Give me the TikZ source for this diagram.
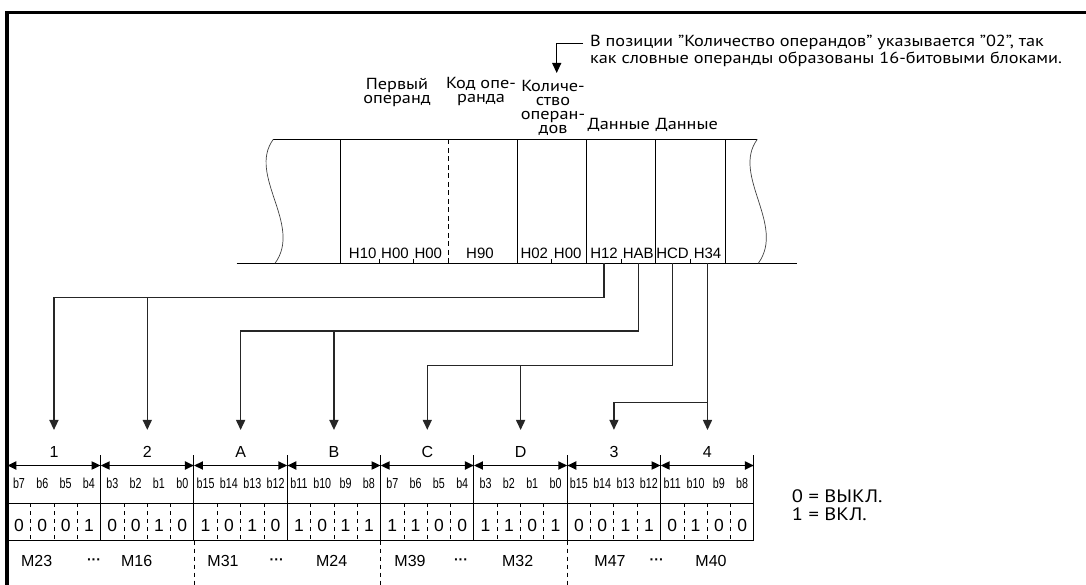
\documentclass[tikz,border=0pt]{standalone}
\usepackage{fontspec}
\setmainfont[FakeStretch=1.14]{PT Sans}
\newfontfamily\hexfont{Liberation Sans}
\newfontfamily\bitfont[FakeStretch=0.74]{Liberation Sans}
\usetikzlibrary{arrows.meta, positioning, calc}

\begin{document}
\begin{tikzpicture}[
    x=1pt, y=-1pt,
    frameline/.style={line width=3.5pt},
    memline/.style={line width=1pt},
    wave/.style={line width=0.7pt, black!75},
    pointer/.style={line width=1.2pt, -{Triangle[length=10pt, width=9pt]}},
    conn/.style={line width=1.5pt, black!85, -{Triangle[length=10pt, width=9pt]}},
    span/.style={line width=1.8pt, {Triangle[length=9pt, width=8pt]}-{Triangle[length=9pt, width=8pt]}},
    grid/.style={line width=1pt},
    sep/.style={line width=0.9pt, dash pattern=on 4pt off 4pt},
    field/.style={font=\fontsize{16}{14}\selectfont, align=center, inner sep=0pt},
    note/.style={font=\fontsize{16}{16.5}\selectfont, align=left, inner sep=0pt, anchor=west},
    hexval/.style={font=\hexfont\fontsize{15}{15}\selectfont, inner sep=0pt},
    bitname/.style={font=\bitfont\fontsize{14.5}{14.5}\selectfont, inner sep=0pt},
    bitval/.style={font=\hexfont\fontsize{17.5}{17.5}\selectfont, inner sep=0pt},
    grouplbl/.style={font=\hexfont\fontsize{16}{16}\selectfont, inner sep=0pt},
    devname/.style={font=\hexfont\fontsize{16}{16}\selectfont, inner sep=0pt},
    gap/.style={font=\hexfont\bfseries\fontsize{14}{14}\selectfont, inner sep=0pt},
]
\useasboundingbox (0,0) rectangle (1086,585);

% frame
\draw[frameline] (7,585) -- (7,12.7) -- (1086,12.7);

% memory block
\coordinate (memtop) at (0,139.3);
\coordinate (membot) at (0,263.3);
\draw[memline] (273.3,139.3) -- (757.3,139.3);
\draw[memline] (236.7,263.3) -- (796.7,263.3);
\foreach \x in {340.7,517.3,586.7,655.7,725.3}
    \draw[memline] (\x,139.3) -- (\x,263.3);
\draw[memline, dash pattern=on 5pt off 3.5pt] (448.3,139.3) -- (448.3,263.3);
\foreach \x in {379.3,413.3,551.7,621.7,690}
    \draw[memline] (\x,259) -- (\x,263.3);
\draw[wave] (273.3,139.3) .. controls (247,175) and (303,225) .. (275,263.3);
\draw[wave] (757.3,139.3) .. controls (731,175) and (786,225) .. (758.3,263.3);

% byte values
\node[hexval] (h10)  at (362.7,253.3) {H10};
\node[hexval] (h00a) at (395,253.3)   {H00};
\node[hexval] (h00b) at (428.3,253.3) {H00};
\node[hexval] (h90)  at (480,253.3)   {H90};
\node[hexval] (h02)  at (534.3,253.3) {H02};
\node[hexval] (h00c) at (567.7,253.3) {H00};
\node[hexval] (h12)  at (604,253.3)   {H12};
\node[hexval] (hab)  at (638.3,253.3) {HAB};
\node[hexval] (hcd)  at (672.5,253.3) {HCD};
\node[hexval] (h34)  at (707.5,253.3) {H34};

% field names
\node[field] (first) at (397,92)  {Первый\\операнд};
\node[field] (code)  at (481,92)  {Код опе-\\ранда};
\node[field] (cnt)   at (553,107.5) {Количе-\\ство\\операн-\\дов};
\node[field] (data1) at (618.8,124.5) {Данные};
\node[field] (data2) at (686.7,124.5) {Данные};

% note
\node[note] (note) at (590,51) {В позиции "Количество операндов" указывается "02", так\\как словные операнды образованы 16-битовыми блоками.};
\coordinate (noteend) at (583,43.5);
\coordinate (cnttip) at (556.7,73);
\draw[pointer] (noteend) -| (cnttip);

% bit table
\foreach \i in {0,...,8}
    \coordinate (v\i) at (7.3+93.33*\i,465.5);
\foreach \i in {0,...,8}
    \draw[grid] (v\i |- 0,455) -- (v\i |- 0,540.7);
\draw[grid] (v0 |- 0,503.3) -- (v8 |- 0,503.3);
\draw[grid] (v0 |- 0,540.7) -- (v8 |- 0,540.7);
\foreach \i [count=\j from 0] in {1,...,8}
    \draw[span] (v\j) -- (v\i);

\foreach \t [count=\i] in {1,2,A,B,C,D,3,4} {
    \node[grouplbl] (g\i) at (7.3+93.33*\i-46.67,451.7) {\t};
    \coordinate (tip\i) at ([yshift=16pt]g\i.north);
}

\foreach \b [count=\k from 0] in {b7,b6,b5,b4,b3,b2,b1,b0,b15,b14,b13,b12,b11,b10,b9,b8,b7,b6,b5,b4,b3,b2,b1,b0,b15,b14,b13,b12,b11,b10,b9,b8}
    \node[bitname] at (7.3+23.33*\k+11.67,483.3) {\b};
\foreach \d [count=\k from 0] in {0,0,0,1,0,0,1,0,1,0,1,0,1,0,1,1,1,1,0,0,1,1,0,1,0,0,1,1,0,1,0,0}
    \node[bitval] at (7.3+23.33*\k+11.67,525.5) {\d};
\foreach \g in {0,...,7}
    \foreach \j in {1,2,3}
        \draw[sep] (7.3+93.33*\g+23.33*\j,503.3) -- ++(0,37.4);

% devices
\foreach \m/\x in {M23/36.7,M16/136.7,M31/223,M24/331.7,M39/410,M32/517.7,M47/610,M40/711}
    \node[devname] at (\x,560.7) {\m};
\foreach \x in {94,276.7,461,656.7}
    \node[gap] at (\x,562) {···};
\foreach \x in {194.3,380.7,567.7}
    \draw[sep] (\x,540.7) -- (\x,585);

% legend
\node[note, font=\fontsize{18}{18}\selectfont] (legend) at (791.7,505) {0 = ВЫКЛ.\\1 = ВКЛ.};

% connectors
\coordinate (k1) at (0,297.3);
\coordinate (k2) at (0,331);
\coordinate (k3) at (0,365.3);
\coordinate (k4) at (0,402.3);
\draw[conn] (h12 |- membot) |- (k1 -| tip1) -- (tip1);
\draw[conn] (k1 -| tip2) -- (tip2);
\draw[conn] (hab |- membot) |- (k2 -| tip3) -- (tip3);
\draw[conn] (k2 -| tip4) -- (tip4);
\draw[conn] (hcd |- membot) |- (k3 -| tip5) -- (tip5);
\draw[conn] (k3 -| tip6) -- (tip6);
\draw[conn] (h34 |- membot) -- (h34 |- tip8);
\draw[conn] (h34 |- k4) -| (tip7);

\end{tikzpicture}
\end{document}
